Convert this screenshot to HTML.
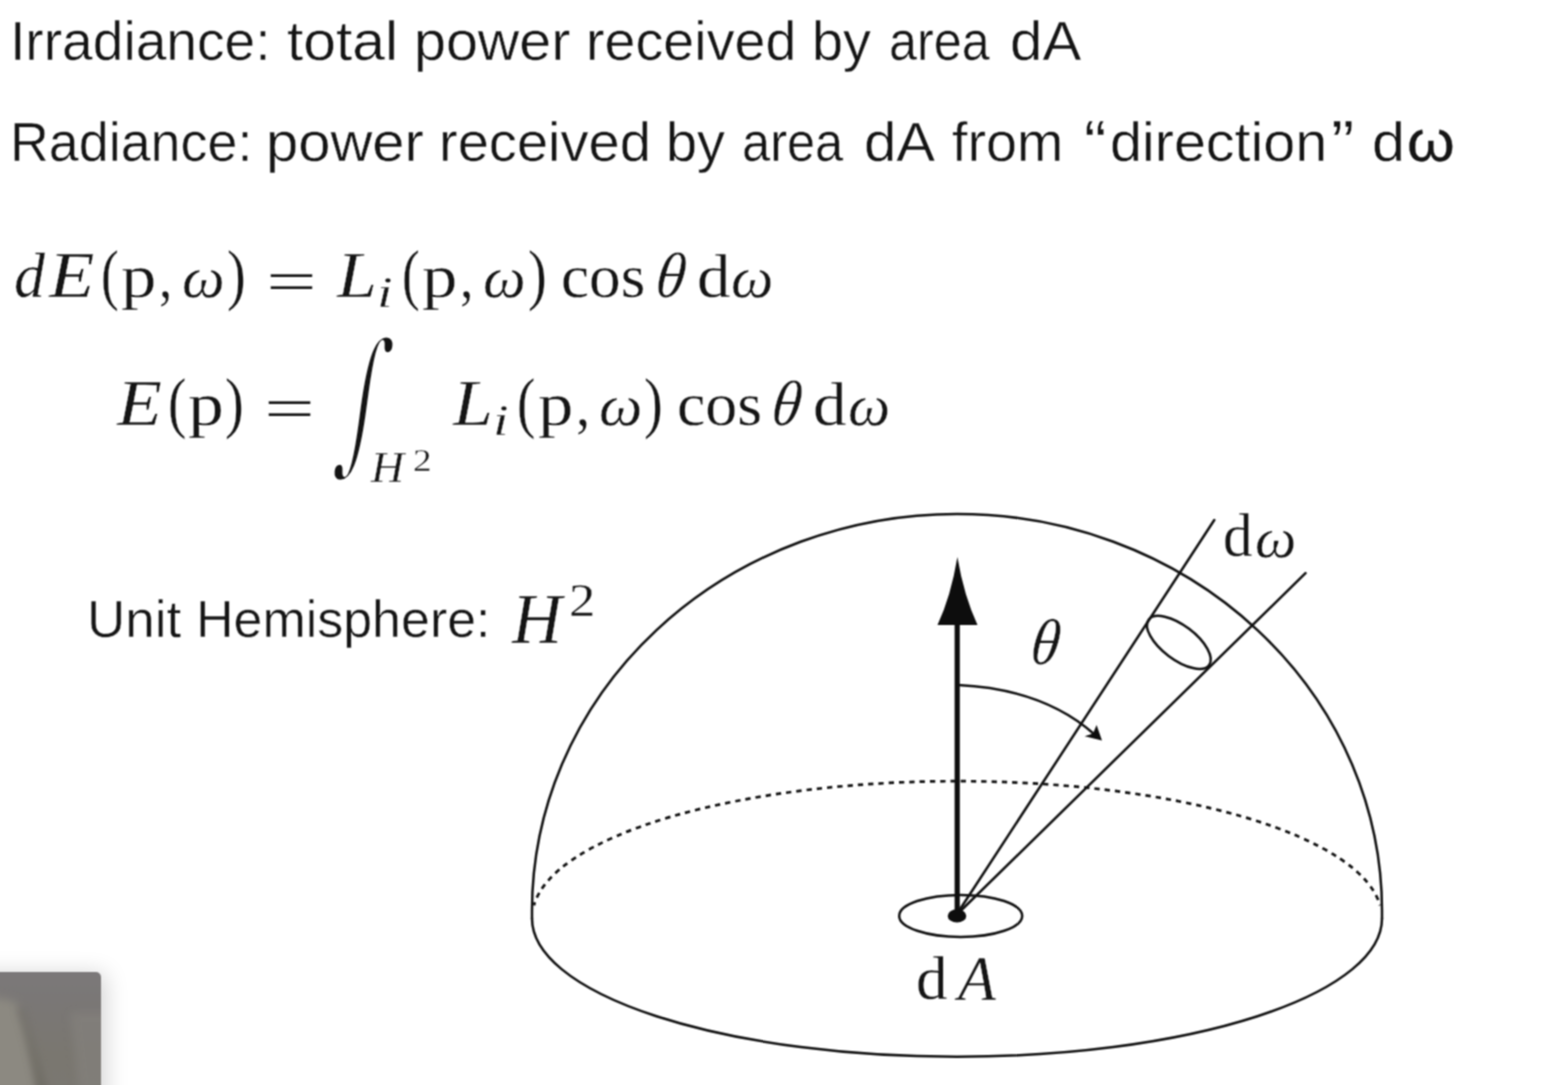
<!DOCTYPE html>
<html lang="en">
<head>
<meta charset="utf-8">
<title>Irradiance and Radiance</title>
<style>
html,body{margin:0;padding:0;background:#fff;}
body{width:1549px;height:1085px;position:relative;overflow:hidden;color:#141414;}
.slide{position:absolute;left:0;top:0;width:1549px;height:1085px;overflow:hidden;background:#fff;filter:url(#soft);}
.ln{position:absolute;left:0;top:0;margin:0;width:1549px;height:0;font-size:0;line-height:0;white-space:nowrap;}
.ln span{position:relative;display:inline-block;width:0;height:0;vertical-align:top;white-space:pre;transform-origin:0 0;}
.ss{font-family:"Liberation Sans",sans-serif;font-weight:400;-webkit-text-stroke:0.5px #fff;}
.rm{font-family:"Liberation Serif",serif;font-weight:400;-webkit-text-stroke:0.3px #fff;}
sub{font-size:inherit;vertical-align:baseline;position:static;}
.hv{-webkit-text-stroke:0.3px #141414;}
.dj{font-family:"DejaVu Serif","Liberation Serif",serif;font-weight:400;}
.it{font-family:"Liberation Serif",serif;font-style:italic;font-weight:400;-webkit-text-stroke:0.4px #fff;}
svg.fig{position:absolute;left:0;top:0;}
.thumb{position:absolute;left:-30px;top:971.5px;width:130.8px;height:140px;border-radius:0 5px 0 0;overflow:hidden;
 background:linear-gradient(180deg,#7b7879 0%,#7a7775 25%,#7a7770 60%,#7b7872 100%);
 box-shadow:3px 3px 22px 2px rgba(0,0,0,.17);}
.thumb svg{position:absolute;left:30px;top:0;}
</style>
</head>
<body>
<svg width="0" height="0" style="position:absolute" aria-hidden="true"><defs><filter id="soft" x="0" y="0" width="100%" height="100%" color-interpolation-filters="sRGB"><feConvolveMatrix order="3" kernelMatrix="1 2 1 2 4 2 1 2 1" divisor="16" edgeMode="duplicate" preserveAlpha="true"/></filter></defs></svg>
<div class="slide">
<p class="ln"><span class="ss" style="left:10.39px;top:7.20px;font-size:56.3px;line-height:68px;transform:scaleX(0.9797)">Irradiance:</span> <span class="ss" style="left:286.60px;top:7.20px;font-size:56.3px;line-height:68px;transform:scaleX(1.0438)">total</span> <span class="ss" style="left:413.81px;top:7.20px;font-size:56.3px;line-height:68px;transform:scaleX(1.0191)">power</span> <span class="ss" style="left:585.72px;top:7.20px;font-size:56.3px;line-height:68px;transform:scaleX(0.9887)">received</span> <span class="ss" style="left:812.01px;top:7.20px;font-size:56.3px;line-height:68px;transform:scaleX(0.9921)">by</span> <span class="ss" style="left:888.83px;top:7.20px;font-size:56.3px;line-height:68px;transform:scaleX(0.8932)">area</span> <span class="ss" style="left:1009.98px;top:7.20px;font-size:56.3px;line-height:68px;transform:scaleX(1.0345)">dA</span></p>
<p class="ln"><span class="ss" style="left:10.49px;top:107.90px;font-size:56.3px;line-height:68px;transform:scaleX(0.9560)">Radiance:</span> <span class="ss" style="left:266.38px;top:107.90px;font-size:56.3px;line-height:68px;transform:scaleX(1.0298)">power</span> <span class="ss" style="left:438.50px;top:107.90px;font-size:56.3px;line-height:68px;transform:scaleX(0.9960)">received</span> <span class="ss" style="left:665.71px;top:107.90px;font-size:56.3px;line-height:68px;transform:scaleX(0.9921)">by</span> <span class="ss" style="left:742.42px;top:107.90px;font-size:56.3px;line-height:68px;transform:scaleX(0.8986)">area</span> <span class="ss" style="left:864.18px;top:107.90px;font-size:56.3px;line-height:68px;transform:scaleX(1.0330)">dA</span> <span class="ss" style="left:952.40px;top:107.90px;font-size:56.3px;line-height:68px;transform:scaleX(0.9883)">from</span> <span class="ss" style="left:1084.38px;top:105.40px;font-size:62.3px;line-height:75px;transform:scaleX(1.0877)">“</span><span class="ss" style="left:1109.80px;top:107.90px;font-size:56.3px;line-height:68px;transform:scaleX(1.0213)">direction</span><span class="ss" style="left:1330.70px;top:105.40px;font-size:62.3px;line-height:75px;transform:scaleX(1.1300)">”</span> <span class="ss" style="left:1372.35px;top:107.90px;font-size:56.3px;line-height:68px;transform:scaleX(1.0534)">d</span><span class="ss hv" style="left:1407.19px;top:108.20px;font-size:56.8px;line-height:68px;transform:scaleX(1.0753)">ω</span></p>
<p class="ln"><span class="it" style="left:13.53px;top:238.90px;font-size:62.58px;line-height:75px;transform:scaleX(0.9907)">d</span><span class="it" style="left:49.16px;top:235.90px;font-size:65.52px;line-height:79px;transform:scaleX(1.1355)">E</span><span class="rm" style="left:100.63px;top:234.40px;font-size:67.27px;line-height:81px;transform:scaleX(0.7928)">(</span><span class="rm" style="left:120.80px;top:240.40px;font-size:60.49px;line-height:73px;transform:scaleX(1.1675)">p</span><span class="rm" style="left:159.14px;top:239.40px;font-size:62px;line-height:74px;transform:scaleX(0.8568)">,</span> <span class="it" style="left:182.21px;top:242.40px;font-size:58.88px;line-height:71px;transform:scaleX(1.0260)">ω</span><span class="rm" style="left:226.74px;top:234.40px;font-size:67.27px;line-height:81px;transform:scaleX(0.8395)">)</span> <span class="rm" style="left:266.08px;top:243.80px;font-size:62px;line-height:74px;transform:scaleX(1.4520)">=</span> <span class="it" style="left:337.12px;top:235.90px;font-size:65.52px;line-height:79px;transform:scaleX(1.0975)">L</span><span class="it" style="left:377.25px;top:265.00px;font-size:45px;line-height:54px;transform:scaleX(1.2500)">i</span><span class="rm" style="left:402.03px;top:234.40px;font-size:67.27px;line-height:81px;transform:scaleX(0.7928)">(</span><span class="rm" style="left:422.20px;top:240.40px;font-size:60.49px;line-height:73px;transform:scaleX(1.1675)">p</span><span class="rm" style="left:460.32px;top:239.40px;font-size:62px;line-height:74px;transform:scaleX(0.8671)">,</span> <span class="it" style="left:483.11px;top:242.40px;font-size:58.88px;line-height:71px;transform:scaleX(1.0260)">ω</span><span class="rm" style="left:528.14px;top:234.40px;font-size:67.27px;line-height:81px;transform:scaleX(0.8395)">)</span> <span class="rm" style="left:561.02px;top:240.40px;font-size:60.49px;line-height:73px;transform:scaleX(1.0449)">cos</span> <span class="it" style="left:654.12px;top:237.40px;font-size:64.0px;line-height:77px;transform:matrix(0.9348,0,-0.1228,1,7.367,0)">θ</span> <span class="rm" style="left:697.31px;top:240.40px;font-size:60.87px;line-height:73px;transform:scaleX(1.1005)">d</span><span class="it" style="left:731.43px;top:242.40px;font-size:58.88px;line-height:71px;transform:scaleX(1.0180)">ω</span></p>
<p class="ln"><span class="it" style="left:117.15px;top:363.50px;font-size:65.52px;line-height:79px;transform:scaleX(1.1233)">E</span><span class="rm" style="left:167.98px;top:362.00px;font-size:67.27px;line-height:81px;transform:scaleX(0.8193)">(</span><span class="rm" style="left:188.28px;top:368.00px;font-size:60.49px;line-height:73px;transform:scaleX(1.1857)">p</span><span class="rm" style="left:224.74px;top:362.00px;font-size:67.27px;line-height:81px;transform:scaleX(0.8395)">)</span> <span class="rm" style="left:264.36px;top:371.40px;font-size:62px;line-height:74px;transform:scaleX(1.4589)">=</span> <span class="dj" style="left:350.50px;top:306.00px;font-size:100px;line-height:120px;-webkit-text-stroke:3.6px #fff;transform:matrix(0.9683,0,-0.1937,1.5778,0,0)">∫</span><sub><span class="it" style="left:371.22px;top:440.30px;font-size:45.1px;line-height:54px;transform:scaleX(1.0156)">H</span><span class="rm" style="left:413.34px;top:441.50px;font-size:30.96px;line-height:37px;transform:scaleX(1.2020)">2</span></sub> <span class="it" style="left:453.02px;top:363.50px;font-size:65.52px;line-height:79px;transform:scaleX(1.0975)">L</span><span class="it" style="left:492.85px;top:392.60px;font-size:45px;line-height:54px;transform:scaleX(1.2500)">i</span><span class="rm" style="left:517.28px;top:362.00px;font-size:67.27px;line-height:81px;transform:scaleX(0.8193)">(</span><span class="rm" style="left:538.10px;top:368.00px;font-size:60.49px;line-height:73px;transform:scaleX(1.1675)">p</span><span class="rm" style="left:576.14px;top:367.00px;font-size:62px;line-height:74px;transform:scaleX(0.9084)">,</span> <span class="it" style="left:598.88px;top:370.00px;font-size:58.88px;line-height:71px;transform:scaleX(1.0419)">ω</span><span class="rm" style="left:644.04px;top:362.00px;font-size:67.27px;line-height:81px;transform:scaleX(0.8395)">)</span> <span class="rm" style="left:676.80px;top:368.00px;font-size:60.49px;line-height:73px;transform:scaleX(1.0566)">cos</span> <span class="it" style="left:770.23px;top:365.00px;font-size:64.0px;line-height:77px;transform:matrix(0.9311,0,-0.1228,1,7.367,0)">θ</span> <span class="rm" style="left:813.30px;top:368.00px;font-size:60.87px;line-height:73px;transform:scaleX(1.1040)">d</span><span class="it" style="left:847.64px;top:370.00px;font-size:58.88px;line-height:71px;transform:scaleX(1.0127)">ω</span></p>
<p class="ln"><span class="ss" style="left:87.29px;top:587.60px;font-size:52.3px;line-height:63px;transform:scaleX(1.0121)">Unit</span> <span class="ss" style="left:196.34px;top:587.60px;font-size:52.3px;line-height:63px;transform:scaleX(0.9935)">Hemisphere:</span> <span class="it" style="left:512.48px;top:576.80px;font-size:70.86px;line-height:85px;transform:scaleX(0.9776)">H</span><span class="rm" style="left:568.86px;top:573.20px;font-size:46.14px;line-height:55px;transform:scaleX(1.1405)">2</span></p>
<svg class="fig" width="1549" height="1085" viewBox="0 0 1549 1085">
<g fill="none" stroke="#111" stroke-width="2.5" stroke-linecap="round">
  <!-- dome -->
  <path d="M532 918.5 L532 910.5 A425 396.7 0 0 1 1382 910.5 L1382 918.5" stroke-linejoin="round"/>
  <!-- base front -->
  <path d="M532 918.5 A425 138.3 0 0 0 1382 918.5"/>
  <!-- base back (dashed) -->
  <path d="M533.95 905.3 A424.8 136.5 0 0 1 1380.05 905.3" stroke-dasharray="5.3 5" stroke-dashoffset="2" stroke-linecap="butt" stroke-width="2.7"/>
  <!-- cone lines -->
  <path d="M958.9 911 L1214.3 520" stroke-width="2.5"/>
  <path d="M960.5 911 L1305.5 573.2" stroke-width="2.5"/>
  <!-- small ellipse on cone -->
  <ellipse cx="1178.8" cy="642.5" rx="37.8" ry="17" transform="rotate(37 1179 642.5)" stroke-width="2.5"/>
  <!-- dA ellipse -->
  <ellipse cx="960.7" cy="915.9" rx="61.5" ry="21" stroke-width="2.5"/>
  <!-- theta arc -->
  <path d="M958 685 Q1043 689 1094 734" stroke-width="2.5"/>
</g>
<g fill="#0d0d0d" stroke="none">
  <rect x="954.6" y="620" width="5.2" height="296"/>
  <path d="M957.4 557 Q964 596 977.5 625 L937.5 625 Q951 596 957.4 557 Z"/>
  <ellipse cx="957" cy="915.9" rx="9.3" ry="6.6"/>
  <path d="M1102 740.6 L1084.6 736.2 L1093 733.6 L1096.6 725 Z"/>
</g>
</svg>
<p class="ln"><span class="rm" style="left:1223.45px;top:500.30px;font-size:60.3px;line-height:72px;transform:scaleX(0.9800)">d</span><span class="it" style="left:1255.17px;top:503.80px;font-size:56.53px;line-height:68px;transform:scaleX(1.0355)">ω</span></p>
<p class="ln"><span class="it" style="left:1028.68px;top:603.30px;font-size:64.71px;line-height:78px;transform:matrix(0.9054,0,-0.1228,1,7.490,0)">θ</span></p>
<p class="ln"><span class="rm" style="left:916.33px;top:943.20px;font-size:60.3px;line-height:72px;transform:scaleX(1.0437)">d</span><span class="it" style="left:957.88px;top:939.70px;font-size:64.0px;line-height:77px;transform:scaleX(0.9705)">A</span></p>
<div class="thumb"><svg width="101" height="114" viewBox="0 0 101 114">
<defs><filter id="tb" x="-50%" y="-50%" width="200%" height="200%"><feGaussianBlur stdDeviation="4"/></filter></defs>
<path d="M-20 22 L16 30 Q26 60 40 130 L-20 130 Z" fill="#8c8981" filter="url(#tb)"/>
<path d="M22 36 Q32 70 50 130 L40 130 Q30 70 18 36 Z" fill="#6c6961" filter="url(#tb)"/>
<path d="M70 40 L120 40 L120 130 L80 130 Z" fill="#84817d" opacity=".7" filter="url(#tb)"/>
</svg></div>
</div>
</body>
</html>
